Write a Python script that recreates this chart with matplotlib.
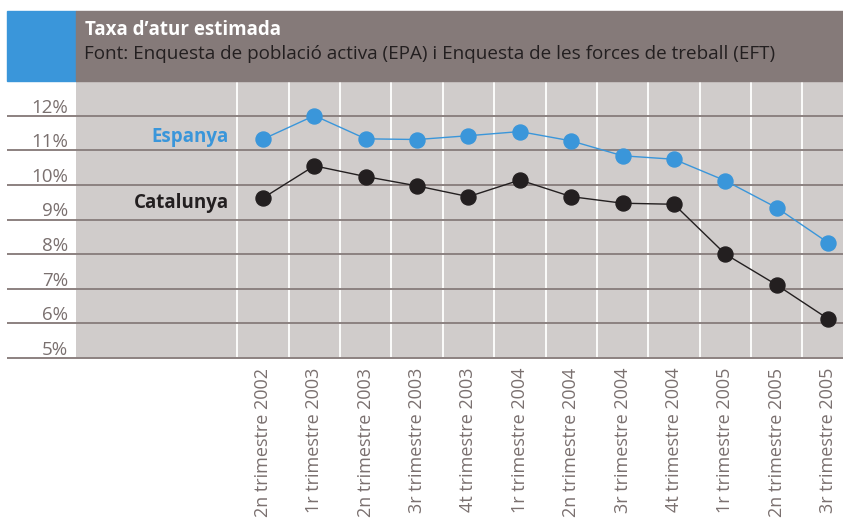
import matplotlib
matplotlib.use("Agg")
import matplotlib.pyplot as plt
from matplotlib.patches import Rectangle

plt.rcParams['font.family'] = ['Open Sans', 'DejaVu Sans']

# Data
periods = [
    "2n trimestre 2002", "1r trimestre 2003", "2n trimestre 2003",
    "3r trimestre 2003", "4t trimestre 2003", "1r trimestre 2004",
    "2n trimestre 2004", "3r trimestre 2004", "4t trimestre 2004",
    "1r trimestre 2005", "2n trimestre 2005", "3r trimestre 2005",
]
espanya = [11.32, 12.00, 11.33, 11.31, 11.42, 11.54, 11.27, 10.84, 10.74, 10.12, 9.34, 8.33]
catalunya = [9.62, 10.55, 10.24, 9.97, 9.66, 10.14, 9.66, 9.47, 9.44, 8.00, 7.11, 6.13]
y_ticks = [5, 6, 7, 8, 9, 10, 11, 12]

BLUE = '#3a96da'
BLACK = '#231f20'
BAR = '#857a79'
PANEL = '#d0cccb'
RULE = '#8c8180'
TICK = '#7a706f'

W, H = 843, 520
fig = plt.figure(figsize=(W / 100, H / 100), dpi=100)

# header: blue square + title bar
fig.patches.append(Rectangle((7 / W, 1 - 81 / H), 69 / W, 70 / H,
                             transform=fig.transFigure, color=BLUE, zorder=0))
fig.patches.append(Rectangle((76 / W, 1 - 81 / H), (W - 76) / W, 70 / H,
                             transform=fig.transFigure, color=BAR, zorder=0))
fig.text(85 / W, 1 - 35 / H, "Taxa d\u2019atur estimada", color='white',
         fontsize=13.5, fontweight='bold', va='baseline', ha='left')
fig.text(84 / W, 1 - 59 / H,
         "Font: Enquesta de població activa (EPA) i Enquesta de les forces de treball (EFT)",
         color=BLACK, fontsize=13.6, va='baseline', ha='left')

ax = fig.add_axes([76 / W, 1 - 358 / H, (W - 76) / W, (358 - 81) / H])
ax.set_facecolor(PANEL)
for s in ax.spines.values():
    s.set_visible(False)

x = list(range(len(periods)))
ax.set_xlim(-3.64, 11.29)
ax.set_ylim(5, 13)

# white column separators
ax.vlines([i - 0.5 for i in x], 5, 13, color='white', lw=1.3, zorder=1)

# horizontal rules extend into the left margin
ax.hlines(y_ticks, -0.09, 1, transform=ax.get_yaxis_transform(),
          color=RULE, lw=1.4, clip_on=False, zorder=2)
for v in y_ticks:
    ax.text(-0.0104, v + 0.09, f"{v}%", transform=ax.get_yaxis_transform(),
            ha='right', va='baseline', fontsize=13.5, color=TICK)

ax.plot(x, espanya, color=BLUE, lw=1.0, marker='o', ms=10.8, zorder=3)
ax.plot(x, catalunya, color=BLACK, lw=1.0, marker='o', ms=10.8, zorder=3)

ax.text(-0.67, 11.23, "Espanya", color=BLUE, fontsize=13.5, fontweight='bold',
        ha='right', va='baseline')
ax.text(-0.67, 9.34, "Catalunya", color=BLACK, fontsize=13.5, fontweight='bold',
        ha='right', va='baseline')

ax.set_yticks([])
ax.set_xticks(x)
ax.set_xticklabels(periods, rotation=90, fontsize=13, color=TICK)
ax.tick_params(axis='x', length=0, pad=7)

fig.savefig('out.png', dpi=100)
